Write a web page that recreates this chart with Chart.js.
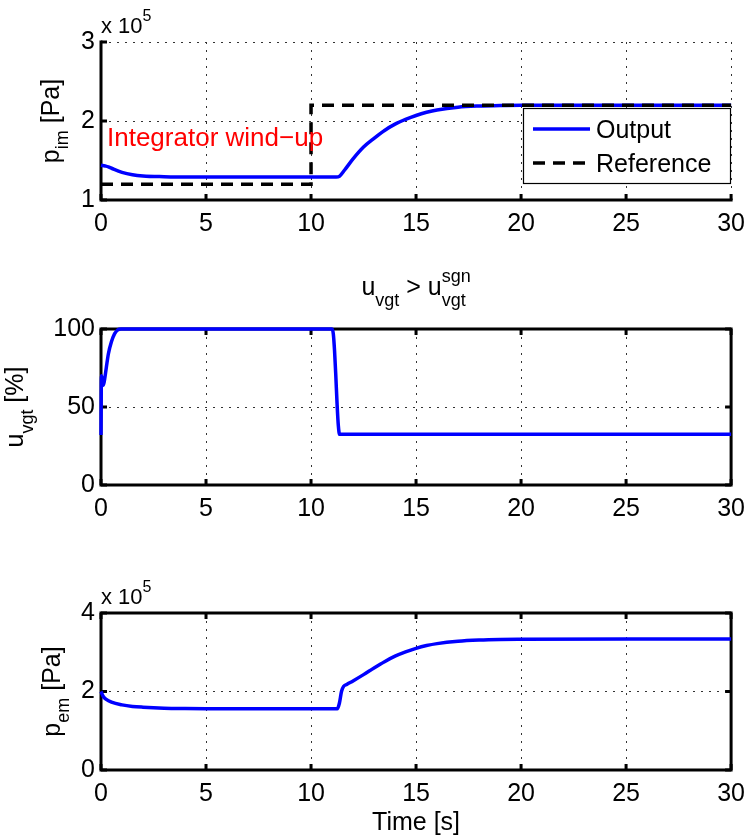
<!DOCTYPE html>
<html>
<head>
<meta charset="utf-8">
<script src="https://cdn.jsdelivr.net/npm/chart.js@4.4.1/dist/chart.umd.min.js"></script>
<style>
  html, body { margin: 0; padding: 0; background: #fff; }
  #page { position: relative; width: 754px; height: 838px; overflow: hidden; }
  canvas { position: absolute; left: 0; }
</style>
</head>
<body>
<div id="page">
  <canvas id="pimChart" width="754" height="250" style="top:0px"></canvas>
  <canvas id="vgtChart" width="754" height="290" style="top:250px"></canvas>
  <canvas id="pemChart" width="754" height="298" style="top:540px"></canvas>
</div>
<script>
// time axis ticks [s]
const xTicks = [0, 5, 10, 15, 20, 25, 30];

// p_im [x 1e5 Pa] - output and reference
const pimTime = [0, 0.2, 0.35, 0.6, 1, 1.5, 2, 3, 4, 5, 11.2, 11.35, 11.6, 12, 12.5, 13, 13.5, 14, 14.5, 15, 15.5, 16, 17, 18, 19, 20, 30];
const pimOutput = [1.44, 1.43, 1.42, 1.39, 1.35, 1.32, 1.305, 1.295, 1.29, 1.29, 1.29, 1.30, 1.38, 1.52, 1.67, 1.78, 1.88, 1.96, 2.02, 2.07, 2.11, 2.14, 2.175, 2.19, 2.197, 2.2, 2.2];
const refTime = [0, 10, 10, 30];
const pimReference = [1.2, 1.2, 2.2, 2.2];
const pimTicks = [1, 2, 3];

// u_vgt [%]
const vgtTime = [0, 0.02, 0.05, 0.1, 0.15, 0.25, 0.35, 0.5, 0.65, 0.8, 0.95, 11.0, 11.06, 11.12, 11.18, 11.24, 11.3, 11.36, 30];
const vgtOutput = [32, 70, 67, 64, 66, 75, 84, 92, 97, 99.5, 100, 100, 97, 86, 70, 52, 38, 32.5, 32.5];
const vgtTicks = [0, 50, 100];

// p_em [x 1e5 Pa]
const pemTime = [0, 0.1, 0.25, 0.5, 1, 1.5, 2, 3, 4, 5, 11.25, 11.35, 11.45, 11.55, 11.7, 12, 12.5, 13, 13.5, 14, 14.5, 15, 15.5, 16, 17, 18, 19, 20, 25, 30];
const pemOutput = [2.0, 1.88, 1.8, 1.73, 1.66, 1.62, 1.6, 1.575, 1.565, 1.56, 1.56, 1.7, 2.0, 2.13, 2.18, 2.27, 2.43, 2.6, 2.76, 2.9, 3.01, 3.1, 3.17, 3.22, 3.28, 3.31, 3.325, 3.33, 3.335, 3.335];
const pemTicks = [0, 2, 4];

const legendLabels = ['Output', 'Reference'];

const FONT = '"Liberation Sans", Arial, Helvetica, sans-serif';
const BLUE = '#0000ff';
const MAIN = 25;
const SMALL = 18;

function pairs(xs, ys) {
    return xs.map((x, i) => ({ x: x, y: ys[i] }));
}

// draws text made of pieces (sub/superscripts), centered or left aligned at (x, y)
function drawRich(ctx, parts, x, y, align) {
    let width = 0;
    let prevW = 0;
    parts.forEach(p => {
        ctx.font = p.size + 'px ' + FONT;
        const w = ctx.measureText(p.t).width;
        if (p.stack) {
            width += Math.max(0, w - prevW);
        } else {
            width += w;
            prevW = w;
        }
        p.w = w;
    });
    let cx = align === 'center' ? x - width / 2 : x;
    let lastX = cx;
    prevW = 0;
    ctx.textAlign = 'left';
    ctx.textBaseline = 'alphabetic';
    parts.forEach(p => {
        ctx.font = p.size + 'px ' + FONT;
        ctx.fillStyle = p.color || '#000';
        if (p.stack) {
            ctx.fillText(p.t, lastX, y + (p.dy || 0));
            cx = lastX + Math.max(prevW, p.w);
        } else {
            ctx.fillText(p.t, cx, y + (p.dy || 0));
            lastX = cx;
            prevW = p.w;
            cx += p.w;
        }
    });
}

function matlabPlugin(cfg) {
    return {
        id: 'matlabAxes',
        beforeDatasetsDraw(chart) {
            const ctx = chart.ctx;
            const a = chart.chartArea;
            const xs = chart.scales.x;
            const ys = chart.scales.y;
            ctx.save();
            ctx.strokeStyle = '#000';
            ctx.lineWidth = 3;
            ctx.lineCap = 'square';
            ctx.beginPath();
            if (cfg.box) {
                ctx.rect(a.left, a.top, a.right - a.left, a.bottom - a.top);
            } else {
                ctx.moveTo(a.left, a.top);
                ctx.lineTo(a.left, a.bottom);
                ctx.lineTo(a.right, a.bottom);
            }
            ctx.stroke();
            // inward tick marks
            ctx.lineCap = 'butt';
            ctx.beginPath();
            xs.ticks.forEach(t => {
                const px = xs.getPixelForValue(t.value);
                ctx.moveTo(px, a.bottom);
                ctx.lineTo(px, a.bottom - 6);
                if (cfg.box) {
                    ctx.moveTo(px, a.top);
                    ctx.lineTo(px, a.top + 6);
                }
            });
            ys.ticks.forEach(t => {
                const py = ys.getPixelForValue(t.value);
                ctx.moveTo(a.left, py);
                ctx.lineTo(a.left + 6, py);
                if (cfg.box) {
                    ctx.moveTo(a.right, py);
                    ctx.lineTo(a.right - 6, py);
                }
            });
            ctx.stroke();
            ctx.restore();
        },
        afterDraw(chart) {
            const ctx = chart.ctx;
            const a = chart.chartArea;
            const off = cfg.top;
            ctx.save();
            // y label, rotated
            ctx.save();
            ctx.translate(cfg.yLabelX, (a.top + a.bottom) / 2);
            ctx.rotate(-Math.PI / 2);
            drawRich(ctx, cfg.yLabel, 0, 0, 'center');
            ctx.restore();
            if (cfg.exponent) {
                drawRich(ctx, [
                    { t: 'x 10', size: 22 },
                    { t: '5', size: 16, dy: -12 }
                ], a.left, cfg.exponentY - off, 'left');
            }
            if (cfg.title) {
                drawRich(ctx, cfg.title, (a.left + a.right) / 2, cfg.titleY - off, 'center');
            }
            if (cfg.annotation) {
                drawRich(ctx, [{ t: cfg.annotation.text, size: 26, color: '#ff0000' }],
                    cfg.annotation.x, cfg.annotation.y - off, 'left');
            }
            if (cfg.legend) {
                const L = cfg.legend;
                ctx.fillStyle = '#fff';
                ctx.fillRect(L.x, L.y - off, L.w, L.h);
                ctx.strokeStyle = '#000';
                ctx.lineWidth = 1.2;
                ctx.strokeRect(L.x + 0.5, L.y - off + 0.5, L.w, L.h);
                chart.data.datasets.slice().sort((p, q) => p.legendIndex - q.legendIndex).forEach((ds, i) => {
                    const rowY = L.y - off + 21 + i * 34;
                    ctx.beginPath();
                    ctx.strokeStyle = ds.borderColor;
                    ctx.lineWidth = ds.borderWidth;
                    ctx.setLineDash(ds.borderDash || []);
                    ctx.moveTo(L.x + 10, rowY);
                    ctx.lineTo(L.x + 67, rowY);
                    ctx.stroke();
                    ctx.setLineDash([]);
                    drawRich(ctx, [{ t: ds.label, size: MAIN }], L.x + 73, rowY + 9, 'left');
                });
            }
            ctx.restore();
        }
    };
}

function makePanel(canvasId, cfg, datasets) {
    const padTop = cfg.areaTop - cfg.top;
    const xHeight = cfg.height - (cfg.areaBottom - cfg.top);
    return new Chart(document.getElementById(canvasId), {
        type: 'line',
        data: { datasets: datasets },
        options: {
            responsive: false,
            animation: false,
            devicePixelRatio: 1,
            layout: { padding: { top: padTop, right: 17, left: 0, bottom: 0 } },
            plugins: { legend: { display: false }, tooltip: { enabled: false } },
            elements: { point: { radius: 0 } },
            scales: {
                x: {
                    type: 'linear',
                    min: 0,
                    max: 30,
                    afterBuildTicks: s => { s.ticks = xTicks.map(v => ({ value: v })); },
                    afterFit: s => { s.height = xHeight; },
                    border: { display: false, dash: [2, 6] },
                    grid: { color: '#333', lineWidth: 1, drawTicks: false },
                    ticks: {
                        autoSkip: false, maxRotation: 0, padding: 9, color: '#000',
                        font: { family: FONT, size: MAIN }
                    },
                    title: cfg.xTitle ? {
                        display: true, text: cfg.xTitle, color: '#000', padding: 0,
                        font: { family: FONT, size: MAIN }
                    } : { display: false }
                },
                y: {
                    type: 'linear',
                    min: cfg.yTicks[0],
                    max: cfg.yTicks[cfg.yTicks.length - 1],
                    afterBuildTicks: s => { s.ticks = cfg.yTicks.map(v => ({ value: v })); },
                    afterFit: s => { s.width = 101; },
                    border: { display: false, dash: [2, 6] },
                    grid: { color: '#333', lineWidth: 1, drawTicks: false },
                    ticks: {
                        autoSkip: false, padding: 6, color: '#000',
                        font: { family: FONT, size: MAIN }
                    }
                }
            }
        },
        plugins: [matlabPlugin(cfg)]
    });
}

const lineStyle = {
    borderColor: BLUE,
    borderWidth: 3.5,
    fill: false,
    cubicInterpolationMode: 'monotone',
    clip: 4
};

makePanel('pimChart', {
    top: 0, height: 250, areaTop: 42, areaBottom: 200, box: false,
    yTicks: pimTicks,
    yLabelX: 59,
    yLabel: [{ t: 'p', size: MAIN }, { t: 'im', size: SMALL, dy: 9 }, { t: ' [Pa]', size: MAIN }],
    exponent: true, exponentY: 33,
    annotation: { text: 'Integrator wind\u2212up', x: 107, y: 146 },
    legend: { x: 523, y: 108, w: 207, h: 75 }
}, [
    Object.assign({}, lineStyle, { label: legendLabels[0], data: pairs(pimTime, pimOutput), order: 1, legendIndex: 0 }),
    { label: legendLabels[1], data: pairs(refTime, pimReference), borderColor: '#000', borderWidth: 3.5,
      borderDash: [12, 8], fill: false, tension: 0, clip: 4, order: 0, legendIndex: 1 }
]);

makePanel('vgtChart', {
    top: 250, height: 290, areaTop: 329, areaBottom: 485, box: true,
    yTicks: vgtTicks,
    yLabelX: 23,
    yLabel: [{ t: 'u', size: MAIN }, { t: 'vgt', size: SMALL, dy: 10 }, { t: ' [%]', size: MAIN }],
    title: [
        { t: 'u', size: MAIN }, { t: 'vgt', size: SMALL, dy: 11 }, { t: ' > u', size: MAIN },
        { t: 'sgn', size: SMALL, dy: -13 }, { t: 'vgt', size: SMALL, dy: 11, stack: true }
    ],
    titleY: 295
}, [
    Object.assign({}, lineStyle, { label: 'u_vgt', data: pairs(vgtTime, vgtOutput) })
]);

makePanel('pemChart', {
    top: 540, height: 298, areaTop: 613, areaBottom: 770, box: true,
    yTicks: pemTicks,
    yLabelX: 60,
    yLabel: [{ t: 'p', size: MAIN }, { t: 'em', size: SMALL, dy: 9 }, { t: ' [Pa]', size: MAIN }],
    exponent: true, exponentY: 604,
    xTitle: 'Time [s]'
}, [
    Object.assign({}, lineStyle, { label: 'p_em', data: pairs(pemTime, pemOutput) })
]);
</script>
</body>
</html>
